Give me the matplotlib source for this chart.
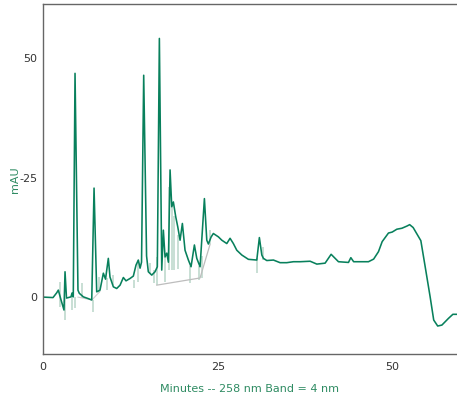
import matplotlib
matplotlib.use("Agg")
import matplotlib.pyplot as plt

# Main trace (minutes, mAU)
time_min = [0.0, 1.43, 1.96, 2.19, 2.58, 3.0, 3.15, 3.36, 4.0, 4.15, 4.33, 4.58, 5.0, 5.19,
            5.77, 6.44, 6.97, 7.3, 7.68, 8.15, 8.63, 8.94, 9.34, 9.58, 10.06, 10.54, 11.02,
            11.49, 11.87, 12.45, 12.92, 13.3, 13.63, 13.88, 14.09, 14.4, 14.81, 15.06, 15.55,
            16.02, 16.35, 16.64, 16.98, 17.21, 17.45, 17.7, 17.93, 18.17, 18.41, 18.64, 18.98,
            19.27, 19.6, 19.93, 20.31, 20.79, 21.17, 21.65, 21.99, 22.46, 23.08, 23.42, 23.65,
            24.03, 24.36, 25.08, 25.57, 26.28, 26.75, 27.22, 27.71, 28.43, 29.37, 30.57, 30.94,
            31.29, 31.52, 32.0, 32.95, 33.9, 34.86, 35.81, 36.77, 38.2, 39.16, 40.34, 41.2,
            42.25, 43.68, 44.02, 44.42, 46.54, 47.28, 47.97, 48.5, 49.4, 49.93, 50.6, 51.32,
            52.03, 52.43, 52.93, 54.03, 54.65, 55.36, 55.87, 56.44, 57.04, 57.98, 58.61, 59.3]
mau = [0.0, -0.1, 0.9, 1.46, -0.6, -2.7, 5.3, -0.2, 0.05, 0.85, 0.05, 46.8, 1.45, 0.8,
       0.05, -0.3, -0.6, 22.8, 1.1, 1.45, 5.0, 3.75, 8.1, 4.2, 2.15, 1.8, 2.5,
       4.1, 3.4, 3.9, 4.4, 6.7, 7.75, 6.05, 7.3, 46.4, 8.6, 5.3, 4.6,
       5.3, 6.35, 54.1, 5.65, 14.0, 8.4, 9.2, 7.3, 26.6, 18.9, 19.9, 16.8,
       14.7, 11.9, 15.4, 9.8, 7.75, 6.35, 10.9, 8.1, 6.35, 20.6, 11.9, 11.1,
       12.55, 13.3, 12.6, 11.9, 11.2, 12.3, 11.2, 9.8, 8.8, 7.9, 7.75, 12.45,
       8.8, 8.1, 7.65, 7.75, 7.2, 7.2, 7.4, 7.4, 7.5, 6.9, 7.1, 8.95,
       7.4, 7.25, 8.25, 7.4, 7.4, 7.95, 9.5, 11.6, 13.4, 13.6, 14.2, 14.4,
       14.85, 15.15, 14.55, 11.8, 6.35, 0.05, -4.8, -6.05, -5.85, -4.45, -3.6, -3.6]

# Light secondary spikes (minutes, low, high)
ghost_t = [2.43, 3.15, 4.1, 4.58, 5.54, 7.1, 8.05, 9.1, 9.97, 13.0, 13.63, 15.3, 15.9,
           16.27, 17.45, 18.0, 18.4, 18.8, 19.36, 21.0, 22.36, 22.7, 23.9, 30.66, 31.52]
ghost_lo = [-2.0, -4.8, -2.7, -2.3, -0.2, -3.1, 0.8, 1.5, 2.5, 1.9, 3.2, 5.0, 2.9,
            2.5, 3.2, 5.6, 5.6, 5.7, 5.8, 3.0, 3.5, 4.0, 11.2, 5.1, 7.75]
ghost_hi = [3.2, -0.2, 0.8, 0.0, 2.9, -0.6, 4.25, 4.0, 4.6, 3.6, 7.75, 7.1, 5.65,
            8.4, 8.4, 23.0, 19.0, 17.0, 13.0, 6.5, 6.5, 8.5, 14.0, 8.1, 10.5]

# Integration baselines
base1_t = [16.27, 22.46, 23.88]
base1_v = [2.5, 4.0, 11.0]
base2_t = [5.0, 7.0, 8.15]
base2_v = [0.0, -0.6, 1.2]

yticks = [0, 25, 50]
ytick_labels = ["0", "-25", "50"]
xticks = [0, 25, 50]
xtick_labels = ["0", "25", "50"]

W, H = 457, 395
fig = plt.figure(figsize=(W / 100, H / 100), dpi=100)
ax = fig.add_axes([43 / W, (H - 354) / H, (457 - 43) / W, (354 - 4) / H])

green = "#08805c"
ax.vlines(ghost_t, ghost_lo, ghost_hi, color="#b9d6c9", lw=1.1, zorder=1)
ax.plot(base1_t, base1_v, color="#bdbdbd", lw=0.9, zorder=1)
ax.plot(base2_t, base2_v, color="#cfcfcf", lw=0.8, zorder=1)
ax.plot(time_min, mau, color=green, lw=1.15, zorder=2)

ax.set_xlim(0, 59.2)
ax.set_ylim(-11.9, 61.3)
ax.set_xticks(xticks)
ax.set_xticklabels(xtick_labels)
ax.set_yticks(yticks)
ax.set_yticklabels(ytick_labels)
ax.tick_params(length=0, labelsize=8, colors="#333333")
ax.tick_params(axis="x", pad=6)
ax.tick_params(axis="y", pad=4)

for s in ["left", "bottom", "top"]:
    ax.spines[s].set_color("#666666")
    ax.spines[s].set_linewidth(1.0)
ax.spines["right"].set_visible(False)

ax.set_xlabel("Minutes -- 258 nm Band = 4 nm", color="#2e8b62", fontsize=8)
ax.xaxis.set_label_coords(0.5, -0.085)
ax.set_ylabel("mAU", color="#2e8b62", fontsize=8)
ax.yaxis.set_label_coords(-0.056, 0.497)

fig.savefig("out.png", dpi=100)
